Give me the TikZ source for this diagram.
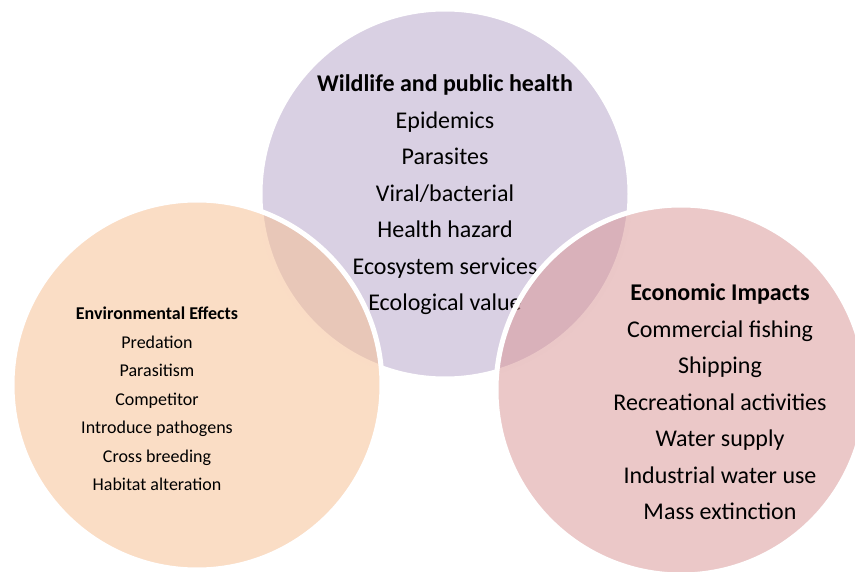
\documentclass[tikz,border=0pt]{standalone}
\usepackage{fontspec}
\setmainfont{Carlito}
\usepackage{tikz}
\usetikzlibrary{positioning}

\definecolor{lilac}{RGB}{217,208,227}
\definecolor{peach}{RGB}{246,193,150}
\definecolor{rose}{RGB}{217,151,151}

\tikzset{
  bubble/.style={circle, draw=white, line width=5pt, inner sep=0pt,
                 minimum size=370pt},
  biglist/.style={align=center, font=\fontsize{24}{36.5}\selectfont},
  smalllist/.style={align=center, font=\fontsize{18}{28.5}\selectfont}
}

\begin{document}
\begin{tikzpicture}[x=1pt,y=1pt]
\useasboundingbox (0,0) rectangle (855,-572);
% top circle
\node[bubble, fill=lilac] (health) at (445,-194) {};
\node[biglist] (healthlist) at (445,-195) {\textbf{Wildlife and public health}\\
  Epidemics\\ Parasites\\ Viral/bacterial\\ Health hazard\\
  Ecosystem services\\ Ecological value};
% left circle
\node[bubble, fill=peach, fill opacity=0.55] (env) at (197,-385) {};
\node[smalllist] (envlist) at (157,-399) {\textbf{Environmental Effects}\\
  Predation\\ Parasitism\\ Competitor\\ Introduce pathogens\\
  Cross breeding\\ Habitat alteration};
% right circle
\node[bubble, fill=rose, fill opacity=0.53] (econ) at (681,-390) {};
\node[biglist] (econlist) at (720,-402) {\textbf{Economic Impacts}\\
  Commercial fishing\\ Shipping\\ Recreational activities\\
  Water supply\\ Industrial water use\\ Mass extinction};
\end{tikzpicture}
\end{document}
